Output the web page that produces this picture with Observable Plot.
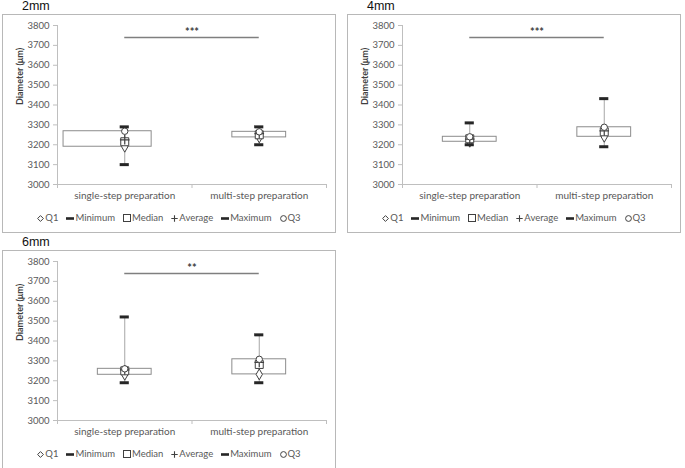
<!DOCTYPE html>
<html>
<head>
<meta charset="utf-8">
<script src="https://cdn.jsdelivr.net/npm/d3@7"></script>
<script src="https://cdn.jsdelivr.net/npm/@observablehq/plot@0.6"></script>
<style>
  html, body { margin: 0; padding: 0; background: #fff; }
  #root { position: relative; width: 685px; height: 468px; overflow: hidden; background: #fff; }
  .title { position: absolute; font-family: "Liberation Sans", Arial, sans-serif; font-size: 12.5px; font-weight: normal; line-height: 1; color: #111; white-space: nowrap; }
  .frame { position: absolute; box-sizing: border-box; width: 334px; height: 219px; border: 1px solid #b8b8b8; background: #fff; }
  .frame svg.plot { position: absolute; left: 0; top: 0; }
  .legend { position: absolute; left: 0; right: 0; top: 197px; height: 12px; display: flex; justify-content: center; align-items: center; gap: 8px;
            font-family: Lato, "Open Sans", sans-serif; font-size: 9.5px; line-height: 12px; color: #595959; white-space: nowrap; }
  .legend span.item { display: inline-flex; align-items: center; gap: 1px; }
  .legend svg { display: block; }
</style>
</head>
<body>
<div id="root"></div>
<script>
// ---------- data ----------
const categories = ["single-step preparation", "multi-step preparation"];
const panelNames = ["2mm", "4mm", "6mm"];
const significance = ["***", "***", "**"];
const yTicks = [3000, 3100, 3200, 3300, 3400, 3500, 3600, 3700, 3800];
const legendLabels = ["Q1", "Minimum", "Median", "Average", "Maximum", "Q3"];

// values per panel: [single-step, multi-step]
const minimum2 = [3100, 3200];
const q1_2     = [3190, 3237];
const median2  = [3215, 3250];
const average2 = [3225, 3256];
const maximum2 = [3290, 3290];
const q3_2     = [3268, 3265];

const minimum4 = [3200, 3190];
const q1_4     = [3215, 3240];
const median4  = [3230, 3265];
const average4 = [3228, 3270];
const maximum4 = [3310, 3432];
const q3_4     = [3240, 3288];

const minimum6 = [3190, 3190];
const q1_6     = [3230, 3232];
const median6  = [3250, 3282];
const average6 = [3255, 3292];
const maximum6 = [3521, 3431];
const q3_6     = [3260, 3308];

const sigLevel = 3740;

// ---------- build ----------
const statSets = [
  [minimum2, q1_2, median2, average2, maximum2, q3_2],
  [minimum4, q1_4, median4, average4, maximum4, q3_4],
  [minimum6, q1_6, median6, average6, maximum6, q3_6]
];

function rowsFor(p) {
  const [mn, q1, md, av, mx, q3] = statSets[p];
  return categories.map((cat, i) => ({i, cat, c: i + 0.5, min: mn[i], q1: q1[i], median: md[i], avg: av[i], max: mx[i], q3: q3[i]}));
}

// layout (frame placement on the page)
const frames = [
  {left: 2, top: 14},
  {left: 347, top: 14},
  {left: 2, top: 250}
];
// the reference draws the single-step box of the 2mm panel wider, extended to the left
const boxLeftExtra = [[0.255, 0], [0, 0], [0, 0]];

const DARK = "#404040";
const FONT = "Lato, 'Open Sans', sans-serif";

const root = document.getElementById("root");

panelNames.forEach((name, p) => {
  const rows = rowsFor(p);
  const fr = frames[p];

  const title = document.createElement("div");
  title.className = "title";
  title.style.left = (fr.left + 20) + "px";
  title.style.top = (fr.top - 14) + "px";
  title.textContent = name;
  root.appendChild(title);

  const frame = document.createElement("div");
  frame.className = "frame";
  frame.style.left = fr.left + "px";
  frame.style.top = fr.top + "px";
  root.appendChild(frame);

  const hw = 0.2, cap = 0.034;
  const centers = categories.map((d, i) => i + 0.5);
  const chart = Plot.plot({
    width: 332, height: 195,
    marginLeft: 54, marginRight: 9, marginTop: 10, marginBottom: 26,
    x: {type: "linear", domain: [0, 2], axis: null},
    y: {domain: [3000, 3800], axis: null},
    style: {fontFamily: FONT, background: "transparent", overflow: "visible"},
    marks: [
      Plot.axisY({ticks: yTicks, tickSize: 4, tickPadding: 4, tickFormat: d => String(d), fontSize: 9.5, color: "#595959", stroke: "#bfbfbf", label: null}),
      Plot.ruleX([0], {y1: 3000, y2: 3800, stroke: "#bfbfbf"}),
      Plot.axisX({ticks: [0, 1, 2], tickSize: 4, tickFormat: () => "", stroke: "#bfbfbf", label: null}),
      Plot.ruleY([3000], {x1: 0, x2: 2, stroke: "#bfbfbf"}),
      Plot.text(rows, {x: "c", frameAnchor: "bottom", dy: 14, text: "cat", fontSize: 10, fill: "#595959"}),
      Plot.text(["Diameter (μm)"], {frameAnchor: "left", rotate: -90, dx: -37, fontWeight: "bold", fontSize: 9, fill: "#404040"}),
      // significance bar
      Plot.ruleY([sigLevel], {x1: centers[0], x2: centers[1], stroke: "#7f7f7f", strokeWidth: 1.6}),
      Plot.text([significance[p]], {x: 1, y: sigLevel, dy: -5, text: d => d, fontSize: 11, fill: "#404040", fontWeight: "bold"}),
      // boxes (Q1 .. Q3)
      Plot.rect(rows, {x1: d => d.c - hw - boxLeftExtra[p][d.i], x2: d => d.c + hw, y1: "q1", y2: "q3", fill: "white", stroke: "#8c8c8c", strokeWidth: 1}),
      // whiskers
      Plot.ruleX(rows, {x: "c", y1: "min", y2: "max", stroke: "#a6a6a6", strokeWidth: 1}),
      // Q1
      Plot.dot(rows, {x: "c", y: "q1", symbol: "diamond", r: 3.3, fill: "white", stroke: DARK, strokeWidth: 1}),
      // Minimum
      Plot.ruleY(rows, {y: "min", x1: d => d.c - cap, x2: d => d.c + cap, stroke: "#262626", strokeWidth: 3}),
      // Median
      Plot.dot(rows, {x: "c", y: "median", symbol: "square", r: 4.5, fill: "white", stroke: DARK, strokeWidth: 1}),
      // Average
      Plot.dot(rows, {x: "c", y: "avg", symbol: "plus", r: 3.2, fill: "none", stroke: DARK, strokeWidth: 1.2}),
      // Maximum
      Plot.ruleY(rows, {y: "max", x1: d => d.c - cap, x2: d => d.c + cap, stroke: "#262626", strokeWidth: 3}),
      // Q3
      Plot.dot(rows, {x: "c", y: "q3", symbol: "circle", r: 3.2, fill: "white", stroke: DARK, strokeWidth: 1})
    ]
  });
  chart.classList.add("plot");
  frame.appendChild(chart);

  // legend
  const sym = {
    "Q1": '<svg width="7" height="7"><path d="M3.5 0.6 L6.4 3.5 L3.5 6.4 L0.6 3.5Z" fill="white" stroke="#404040"/></svg>',
    "Minimum": '<svg width="8" height="7"><rect x="0" y="2.2" width="8" height="2.6" fill="#262626"/></svg>',
    "Median": '<svg width="8" height="8"><rect x="0.5" y="0.5" width="7" height="7" fill="white" stroke="#404040"/></svg>',
    "Average": '<svg width="7" height="7"><path d="M3.5 0.3V6.7M0.3 3.5H6.7" stroke="#404040" stroke-width="1.1"/></svg>',
    "Maximum": '<svg width="8" height="7"><rect x="0" y="2.2" width="8" height="2.6" fill="#262626"/></svg>',
    "Q3": '<svg width="7" height="7"><circle cx="3.5" cy="3.5" r="2.9" fill="white" stroke="#404040"/></svg>'
  };
  const leg = document.createElement("div");
  leg.className = "legend";
  leg.innerHTML = legendLabels.map(l => `<span class="item">${sym[l]}<span>${l}</span></span>`).join("");
  frame.appendChild(leg);
});
</script>
</body>
</html>
